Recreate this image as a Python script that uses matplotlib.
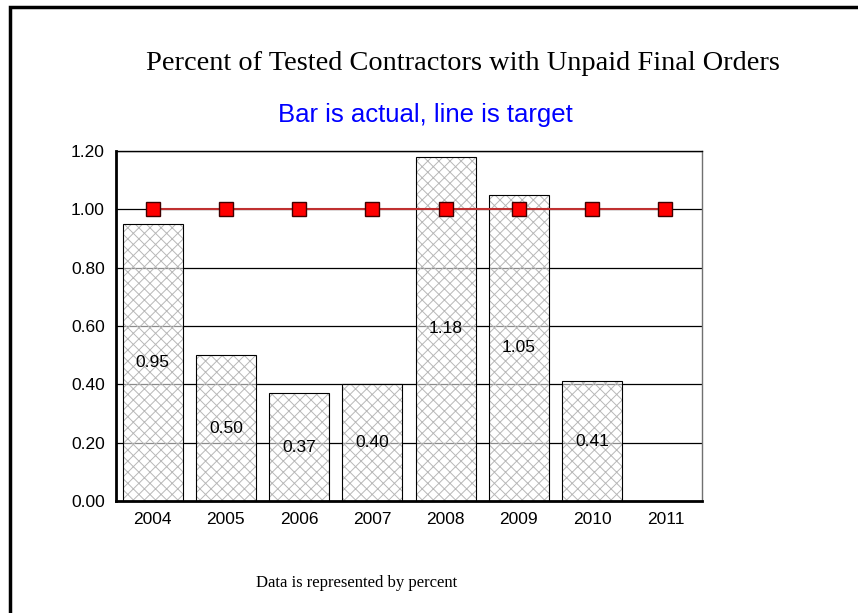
import numpy as np
from matplotlib import pyplot
from matplotlib.patches import Rectangle

years = ['2004', '2005', '2006', '2007', '2008', '2009', '2010', '2011']
actual = [0.95, 0.50, 0.37, 0.40, 1.18, 1.05, 0.41, np.nan]
target = [1.00, 1.00, 1.00, 1.00, 1.00, 1.00, 1.00, 1.00]

pyplot.rcParams['hatch.linewidth'] = 0.7

fig = pyplot.figure(figsize=(8.58, 6.13), dpi=100)
# frame around the slide
fig.patches.append(Rectangle((10 / 858, -0.05), 1.1, (613 - 7) / 613 + 0.05,
                             transform=fig.transFigure, fill=False,
                             edgecolor='black', linewidth=2.5))

ax = fig.add_axes([116 / 858, 1 - 501 / 613, 586 / 858, 350 / 613])
x = np.arange(len(years))

for yv in np.arange(0.2, 1.21, 0.2):
    ax.axhline(yv, color='black', linewidth=0.9, zorder=0)

# hatch in grey, outline in black
ax.bar(x, actual, width=0.82, facecolor=(1, 1, 1, 0.55), edgecolor='#b8b8b8',
       linewidth=0, hatch='xxx', zorder=1)
ax.bar(x, actual, width=0.82, facecolor='none', edgecolor='black',
       linewidth=0.8, zorder=2)
for xi, v in zip(x, actual):
    if not np.isnan(v):
        ax.text(xi, v / 2, '%.2f' % v, ha='center', va='center',
                fontsize=12.5, family='Liberation Sans', zorder=3)

ax.plot(x, target, '-', color='#c03030', linewidth=1.5, marker='s',
        markersize=10, markerfacecolor='red', markeredgecolor='#400000',
        markeredgewidth=1, zorder=4)

ax.set_xlim(-0.5, 7.5)
ax.set_ylim(0, 1.2)
ax.set_xticks(x)
ax.set_xticklabels(years)
ax.set_yticks(np.arange(0, 1.21, 0.2))
ax.set_yticklabels(['%.2f' % t for t in np.arange(0, 1.21, 0.2)])
ax.tick_params(length=0, labelsize=12.5, pad=8)
for lab in ax.get_xticklabels() + ax.get_yticklabels():
    lab.set_family('Liberation Sans')
ax.spines['left'].set_linewidth(2)
ax.spines['bottom'].set_linewidth(2)
ax.spines['top'].set_linewidth(1)
ax.spines['right'].set_linewidth(1)
ax.spines['right'].set_color('#707070')

fig.text(463 / 858, 1 - 63 / 613, 'Percent of Tested Contractors with Unpaid Final Orders',
         ha='center', va='center', fontsize=20.4, family='Liberation Serif')
fig.text(425 / 858, 1 - 115 / 613, 'Bar is actual, line is target',
         ha='center', va='center', fontsize=18.5, color='#0000ff',
         family='Liberation Sans')
fig.text(357 / 858, 1 - 583 / 613, 'Data is represented by percent',
         ha='center', va='center', fontsize=12, family='Liberation Serif')

fig.savefig('out.png', dpi=100)
